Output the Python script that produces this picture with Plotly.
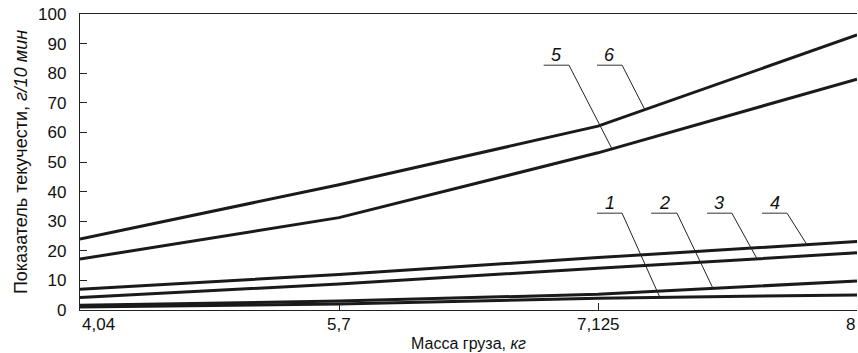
import plotly.graph_objects as go

# Data
categories = ["4,04", "5,7", "7,125", "8"]  # Масса груза, кг
series_names = ["1", "2", "3", "4", "5", "6"]
s1 = [1.0, 2.0, 4.0, 5.1]
s2 = [1.6, 3.0, 5.3, 9.8]
s3 = [4.2, 8.8, 14.1, 19.3]
s4 = [7.0, 12.0, 17.7, 23.1]
s5 = [17.2, 31.2, 53.1, 78.0]
s6 = [24.0, 42.3, 62.1, 92.9]
series = [s1, s2, s3, s4, s5, s6]
y_ticks = list(range(0, 101, 10))

# label callouts: (underline start x-index, underline end x-index, underline y, leader target x-index)
callouts = {
    "1": (1.996, 2.093, 32.7, 2.239),
    "2": (2.205, 2.305, 32.7, 2.444),
    "3": (2.421, 2.517, 32.7, 2.614),
    "4": (2.633, 2.730, 32.7, 2.807),
    "5": (1.790, 1.888, 82.7, 2.054),
    "6": (1.996, 2.093, 82.7, 2.181),
}

def interp(vals, xi):
    i = min(int(xi), len(vals) - 2)
    t = xi - i
    return vals[i] + (vals[i + 1] - vals[i]) * t

FONT = "Liberation Sans, Arial, sans-serif"
fig = go.Figure()
for name, vals in zip(series_names, series):
    fig.add_trace(go.Scatter(x=categories, y=vals, mode="lines", name=name,
                             line=dict(color="#1a1a1a", width=3), showlegend=False,
                             hoverinfo="x+y"))

shapes = []
annotations = []
for name, vals in zip(series_names, series):
    x0, x1, yu, xt = callouts[name]
    yt = interp(vals, xt)
    shapes.append(dict(type="line", xref="x", yref="y", x0=x0, x1=x1, y0=yu, y1=yu,
                       line=dict(color="#555555", width=1.2)))
    shapes.append(dict(type="line", xref="x", yref="y", x0=x1, x1=xt, y0=yu, y1=yt,
                       line=dict(color="#222222", width=1)))
    annotations.append(dict(x=(x0 + x1) / 2, y=yu, xref="x", yref="y", text="<i>%s</i>" % name,
                            showarrow=False, yanchor="bottom", yshift=-2,
                            font=dict(family=FONT, size=18, color="#111111")))

# x tick labels as text (end labels aligned inward, as in the original)
anchors = ["left", "center", "center", "right"]
for i, (lab, anc) in enumerate(zip(categories, anchors)):
    annotations.append(dict(x=i, y=0, xref="x", yref="paper", text=lab, showarrow=False,
                            xanchor=anc, yanchor="top", yshift=-3,
                            font=dict(family=FONT, size=17, color="#111111")))

fig.update_layout(
    width=858, height=353,
    margin=dict(l=80, r=1, t=14, b=43),
    paper_bgcolor="white", plot_bgcolor="white",
    font=dict(family=FONT, size=17, color="#111111"),
    shapes=shapes, annotations=annotations,
    xaxis=dict(type="category", range=[0, 3], showgrid=False, zeroline=False,
               showline=True, linecolor="#222222", linewidth=1.3, mirror=True,
               ticks="inside", ticklen=7, tickcolor="#222222",
               tickvals=["5,7", "7,125"], showticklabels=False,
               title=dict(text="Масса груза, <i>кг</i>", standoff=27,
                          font=dict(family=FONT, size=16))),
    yaxis=dict(range=[0, 100], showgrid=False, zeroline=False,
               showline=True, linecolor="#222222", linewidth=1.3,
               ticks="inside", ticklen=7, tickcolor="#222222",
               tickvals=y_ticks, ticklabelstandoff=9,
               tickfont=dict(family=FONT, size=17),
               title=dict(text="Показатель текучести, <i>г/10 мин</i>", standoff=5,
                          font=dict(family=FONT, size=18))),
)

fig.write_html("out.html")
